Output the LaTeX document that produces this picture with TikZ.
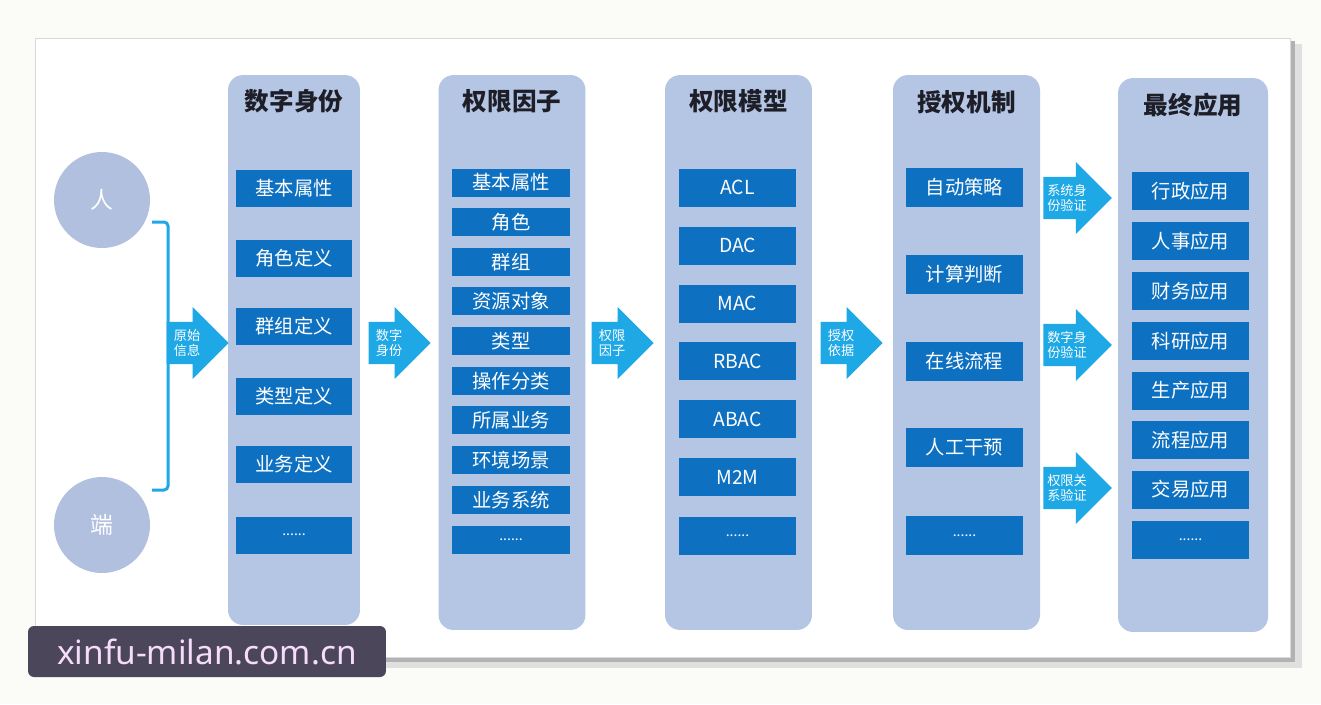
\documentclass[tikz,border=0pt]{standalone}
\usepackage{fontspec}
\setmainfont{Noto Sans CJK SC}
\newfontfamily\markfont{Noto Sans}
\definecolor{pagewhite}{RGB}{251,251,248}
\definecolor{panelblue}{RGB}{180,198,228}
\definecolor{boxblue}{RGB}{14,112,192}
\definecolor{arrowcyan}{RGB}{30,168,230}
\definecolor{circleblue}{RGB}{176,192,222}
\definecolor{titledark}{RGB}{30,30,40}
\definecolor{markbg}{RGB}{75,70,89}
\definecolor{markpink}{RGB}{245,220,248}
\usetikzlibrary{shapes.arrows}

\begin{document}
\begin{tikzpicture}[x=0.02cm, y=-0.02cm,
    colbg/.style={fill=panelblue, rounded corners=0.3cm, minimum width=2.94cm, minimum height=11.1cm, inner sep=0pt},
    coltitle/.style={text=titledark, font=\bfseries\fontsize{14}{16}\selectfont},
    itembox/.style={fill=boxblue, text=white, font=\fontsize{11}{13}\selectfont, minimum width=2.34cm, inner sep=0pt},
    morebox/.style={itembox, font=\fontsize{8}{9}\selectfont},
    flowarrow/.style={single arrow, fill=arrowcyan, text=white, align=center, font=\fontsize{7.5}{9}\selectfont, minimum height=1.24cm, minimum width=1.44cm, inner xsep=2pt, inner ysep=2pt},
    source/.style={circle, fill=circleblue, text=white, minimum size=1.92cm, font=\fontsize{13}{15}\selectfont}]
    \useasboundingbox[fill=pagewhite] (0,0) rectangle (1321,704);
    % panel with shadow
    \fill[black!12] (40,44) rectangle (1302,668);
    \fill[black!30] (38,41) rectangle (1295,662);
    \fill[white] (35,38) rectangle (1290,657);
    \draw[black!15] (35,38) rectangle (1290,657);

    % sources
    \node[source] (ren) at (102,200) {人};
    \node[source] (duan) at (102,525) {端};
    \coordinate (brtop) at (152,222);
    \coordinate (brbot) at (152,490);
    \draw[arrowcyan, line width=0.06cm, rounded corners=0.08cm] (brtop) -- ++(16,0) |- (brbot);

    % column 1
    \node[colbg, minimum width=2.64cm, minimum height=11cm] (col1) at (294,350) {};
    \node[coltitle] (t1) at (294,101) {数字身份};
    \node[itembox, minimum width=2.32cm, minimum height=0.74cm] (id1) at (294,188.5) {基本属性};
    \node[itembox, minimum width=2.32cm, minimum height=0.74cm] (id2) at (294,258) {角色定义};
    \node[itembox, minimum width=2.32cm, minimum height=0.74cm] (id3) at (294,326.5) {群组定义};
    \node[itembox, minimum width=2.32cm, minimum height=0.74cm] (id4) at (294,396) {类型定义};
    \node[itembox, minimum width=2.32cm, minimum height=0.74cm] (id5) at (294,464.5) {业务定义};
    \node[morebox, minimum width=2.32cm, minimum height=0.74cm] (id6) at (294,535) {......};

    % column 2
    \node[colbg] (col2) at (512,352.5) {};
    \node[coltitle] (t2) at (512,101) {权限因子};
    \node[itembox, minimum width=2.36cm, minimum height=0.56cm] (fa1) at (511,182.5) {基本属性};
    \node[itembox, minimum width=2.36cm, minimum height=0.56cm] (fa2) at (511,222) {角色};
    \node[itembox, minimum width=2.36cm, minimum height=0.56cm] (fa3) at (511,262) {群组};
    \node[itembox, minimum width=2.36cm, minimum height=0.56cm] (fa4) at (511,301) {资源对象};
    \node[itembox, minimum width=2.36cm, minimum height=0.56cm] (fa5) at (511,341) {类型};
    \node[itembox, minimum width=2.36cm, minimum height=0.56cm] (fa6) at (511,381) {操作分类};
    \node[itembox, minimum width=2.36cm, minimum height=0.56cm] (fa7) at (511,420) {所属业务};
    \node[itembox, minimum width=2.36cm, minimum height=0.56cm] (fa8) at (511,460) {环境场景};
    \node[itembox, minimum width=2.36cm, minimum height=0.56cm] (fa9) at (511,500) {业务系统};
    \node[morebox, minimum width=2.36cm, minimum height=0.56cm] (fa10) at (511,540) {......};

    % column 3
    \node[colbg] (col3) at (738.5,352.5) {};
    \node[coltitle] (t3) at (738.5,101) {权限模型};
    \node[itembox, minimum height=0.76cm] (md1) at (737.5,187.5) {ACL};
    \node[itembox, minimum height=0.76cm] (md2) at (737.5,245.5) {DAC};
    \node[itembox, minimum height=0.76cm] (md3) at (737.5,303.5) {MAC};
    \node[itembox, minimum height=0.76cm] (md4) at (737.5,361) {RBAC};
    \node[itembox, minimum height=0.76cm] (md5) at (737.5,419) {ABAC};
    \node[itembox, minimum height=0.76cm] (md6) at (737.5,477) {M2M};
    \node[morebox, minimum height=0.76cm] (md7) at (737.5,536) {......};

    % column 4
    \node[colbg] (col4) at (966.5,352.5) {};
    \node[coltitle] (t4) at (966.5,102) {授权机制};
    \node[itembox, minimum height=0.78cm] (au1) at (964.5,187.5) {自动策略};
    \node[itembox, minimum height=0.78cm] (au2) at (964.5,274.5) {计算判断};
    \node[itembox, minimum height=0.78cm] (au3) at (964.5,361.5) {在线流程};
    \node[itembox, minimum height=0.78cm] (au4) at (964.5,447.5) {人工干预};
    \node[morebox, minimum height=0.78cm] (au5) at (964.5,535.5) {......};

    % column 5
    \node[colbg, minimum width=3cm, minimum height=11.08cm] (col5) at (1193,355) {};
    \node[coltitle] (t5) at (1193,105) {最终应用};
    \node[itembox, minimum height=0.76cm] (ap1) at (1190.5,191) {行政应用};
    \node[itembox, minimum height=0.76cm] (ap2) at (1190.5,241) {人事应用};
    \node[itembox, minimum height=0.76cm] (ap3) at (1190.5,291) {财务应用};
    \node[itembox, minimum height=0.76cm] (ap4) at (1190.5,341) {科研应用};
    \node[itembox, minimum height=0.76cm] (ap5) at (1190.5,390.5) {生产应用};
    \node[itembox, minimum height=0.76cm] (ap6) at (1190.5,440) {流程应用};
    \node[itembox, minimum height=0.76cm] (ap7) at (1190.5,489.5) {交易应用};
    \node[morebox, minimum height=0.76cm] (ap8) at (1190.5,539.5) {......};

    % flow arrows
    \node[flowarrow] (fl1) at (187,343) {原始\\信息};
    \node[flowarrow] (fl2) at (389,343) {数字\\身份};
    \node[flowarrow] (fl3) at (612,343) {权限\\因子};
    \node[flowarrow] (fl4) at (841,343) {授权\\依据};
    \node[flowarrow] (fl5) at (1067,198) {系统身\\份验证};
    \node[flowarrow] (fl6) at (1067,345) {数字身\\份验证};
    \node[flowarrow] (fl7) at (1067,488) {权限关\\系验证};

    % watermark
    \node[fill=markbg, rounded corners=0.12cm, text=markpink, font=\markfont\fontsize{19}{20}\selectfont, minimum width=7.16cm, minimum height=1.02cm, inner sep=0pt] (mark) at (207,651.5) {xinfu-milan.com.cn};
\end{tikzpicture}
\end{document}
